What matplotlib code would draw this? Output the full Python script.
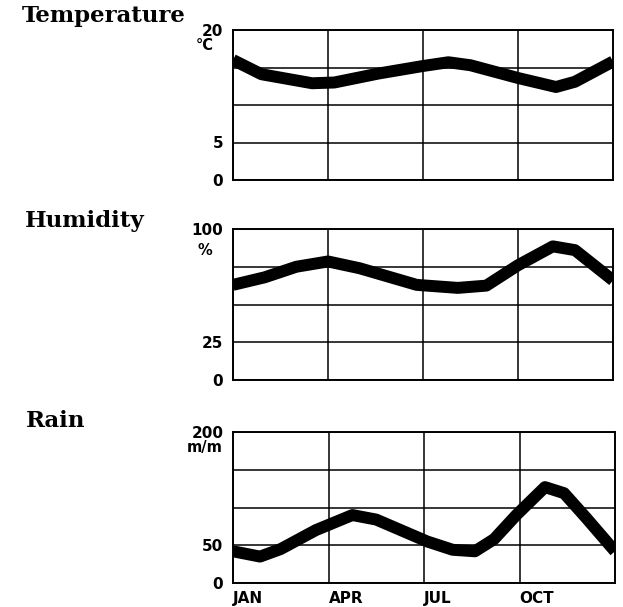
import numpy as np
import matplotlib.pyplot as plt

# values (x in months from JAN = 0)
temp_x = [0, 0.9, 2.5, 3.2, 4.6, 6, 6.8, 7.5, 9, 10.2, 10.8, 12]
temp_y = [16, 14.1, 12.9, 13.0, 14.2, 15.2, 15.7, 15.3, 13.6, 12.4, 13.1, 15.8]

hum_x = [0, 1, 2, 3, 4, 5.8, 7.1, 8, 9, 10.1, 10.8, 12]
hum_y = [63, 68, 75, 78.5, 74, 63, 61, 62.5, 76, 88.5, 86, 66]

rain_x = [0, 0.85, 1.5, 2.6, 3.75, 4.5, 6.1, 6.9, 7.6, 8.2, 8.9, 9.8, 10.4, 11.1, 12]
rain_y = [42, 35, 45, 70, 90, 84, 55, 44, 42, 58, 90, 127, 119, 86, 42]

month_labels = ['JAN', 'APR', 'JUL', 'OCT']
month_pos = [0, 3, 6, 9]

W, H = 623, 607
fig = plt.figure(figsize=(W / 100, H / 100), dpi=100)


def px_axes(left, top, right, bottom):
    return fig.add_axes([left / W, 1 - bottom / H, (right - left) / W, (bottom - top) / H])


def panel(ax, x, y, ymax, ticks, labels, unit, unit_y):
    ax.plot(x, y, color='black', lw=8.6, solid_capstyle='butt', solid_joinstyle='round')
    ax.set_xlim(0, 12)
    ax.set_ylim(0, ymax)
    ax.set_xticks(month_pos)
    ax.set_yticks(ticks)
    ax.set_yticklabels(labels, fontsize=11, fontweight='bold', family='DejaVu Sans')
    ax.tick_params(length=0, pad=7)
    ax.grid(True, color='black', lw=1.1)
    for s in ax.spines.values():
        s.set_linewidth(1.4)
    ax.text(-0.075, unit_y, unit, transform=ax.transAxes, ha='center', va='center',
            fontsize=10.5, fontweight='bold')


ax1 = px_axes(233, 30, 613, 180)
panel(ax1, temp_x, temp_y, 20, [0, 5, 10, 15, 20], ['0', '5', '', '', '20'], '°C', 0.9)
ax1.set_xticklabels([])

ax2 = px_axes(233, 229, 613, 380)
panel(ax2, hum_x, hum_y, 100, [0, 25, 50, 75, 100], ['0', '25', '', '', '100'], '%', 0.86)
ax2.set_xticklabels([])

ax3 = px_axes(233, 432, 615, 583)
panel(ax3, rain_x, rain_y, 200, [0, 50, 100, 150, 200], ['0', '50', '', '', '200'], 'm/m', 0.9)
ax3.set_xticklabels(month_labels, fontsize=11, fontweight='bold', ha='left')
ax3.tick_params(axis='x', pad=6)

title_kw = dict(fontsize=16.5, fontweight='bold', family='DejaVu Serif', va='baseline', ha='left')
fig.text(22 / W, 1 - 22 / H, 'Temperature', **title_kw)
fig.text(25 / W, 1 - 227 / H, 'Humidity', **title_kw)
fig.text(26 / W, 1 - 427 / H, 'Rain', **title_kw)

fig.savefig('out.png', dpi=100)
